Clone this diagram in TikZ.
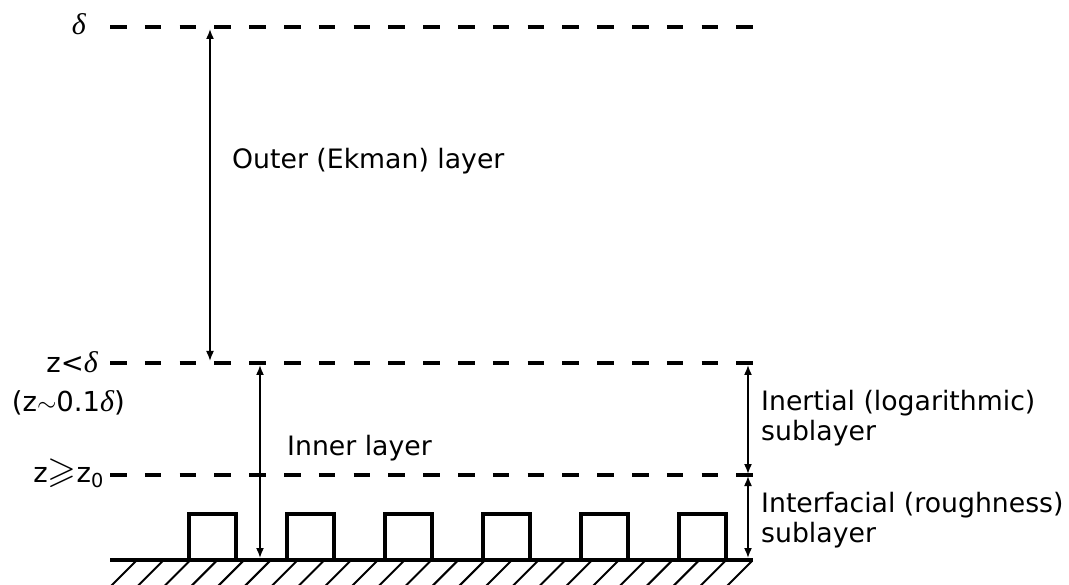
\documentclass[tikz,border=0pt]{standalone}
\usepackage{amssymb}
\usepackage{graphicx}
\usepackage{fontspec}
\setmainfont{DejaVu Sans}
\newfontfamily\dserif{Liberation Serif}
\usetikzlibrary{arrows.meta}
\tikzset{
  level/.style={line width=4pt, dash pattern=on 16.5pt off 18.3pt},
  dim/.style={line width=1.6pt, {Latex[length=10pt,width=8pt]}-{Latex[length=10pt,width=8pt]}},
  ground/.style={line width=4pt},
  bump/.style={line width=4pt, line join=miter},
  hatch/.style={line width=2pt},
  lbl/.style={font=\fontsize{26.7}{30}\selectfont, inner sep=0pt},
  sym/.style={font=\fontsize{27.5}{30}\selectfont, inner sep=0pt},
}
\newcommand{\dl}{{\dserif\itshape\fontsize{30}{30}\selectfont δ}}
\begin{document}
\begin{tikzpicture}[x=1pt,y=-1pt]
\useasboundingbox (0,0) rectangle (1069,585);
% level lines
\coordinate (t0) at (110,27);  \coordinate (t1) at (753,27);
\coordinate (m0) at (110,363); \coordinate (m1) at (753,363);
\coordinate (b0) at (110,475); \coordinate (b1) at (753,475);
\coordinate (g0) at (110,560); \coordinate (g1) at (753,560);
\draw[level] (t0) -- (t1);
\draw[level] (m0) -- (m1);
\draw[level] (b0) -- (b1);
\draw[ground] (g0) -- (g1);
% roughness elements
\foreach \i in {0,...,5}{
  \draw[bump] ({188.5+98*\i},560) |- ({235.5+98*\i},514) -- ({235.5+98*\i},560);
}
% hatching
\begin{scope}
  \clip (105,562) rectangle (760,590);
  \foreach \k in {0,...,23}{
    \draw[hatch] ({137+26.78*\k},560) -- ++(-32,32);
  }
\end{scope}
% dimension arrows
\coordinate (oA) at (210,29);  \coordinate (oB) at (210,361);
\coordinate (iA) at (260,365); \coordinate (iB) at (260,558);
\coordinate (lA) at (748,365); \coordinate (lB) at (748,474);
\coordinate (rA) at (748,476); \coordinate (rB) at (748,558);
\draw[dim] (oA) -- (oB);
\draw[dim] (iA) -- (iB);
\draw[dim] (lA) -- (lB);
\draw[dim] (rA) -- (rB);
% labels
\node[lbl, anchor=base west] (outer) at (232,169) {Outer (Ekman) layer};
\node[lbl, anchor=base west] (inner) at (287,455) {Inner layer};
\node[lbl, anchor=base west] (inert) at (761,410) {Inertial (logarithmic)};
\node[lbl, anchor=base west] (inert2) at (761,440) {sublayer};
\node[lbl, anchor=base west] (inter) at (761,512) {Interfacial (roughness)};
\node[lbl, anchor=base west] (inter2) at (761,542) {sublayer};
% left symbols
\node[sym, anchor=base east] (sd) at (86,35) {\dl};
\node[sym, anchor=base east] (szd) at (98,373) {z<\dl};
\node[sym, anchor=base east] (szt) at (125,412) {(z$\sim$0.1\dl)};
\node[sym, anchor=base east] (szz) at (104,482) {z\scalebox{1.35}{$\geqslant$}z\textsubscript{0}};
\end{tikzpicture}
\end{document}
